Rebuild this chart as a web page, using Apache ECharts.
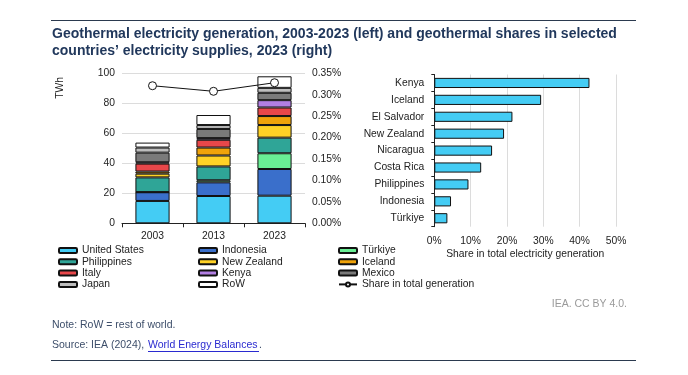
<!DOCTYPE html>
<html><head><meta charset="utf-8">
<script src="https://cdn.jsdelivr.net/npm/echarts@6/dist/echarts.min.js"></script>
<style>html,body{margin:0;padding:0;background:#fff}#c{width:688px;height:375px}</style>
</head><body><div id="c"></div>
<script>
// ---- data ----
const years = ['2003', '2013', '2023'];
const unitedStates = [14.9, 18.2, 18.4];
const indonesia = [5.8, 9.1, 17.8];
const turkiye = [0.1, 1.4, 10.5];
const philippines = [9.8, 9.2, 10.4];
const newZealand = [2.5, 7.3, 8.4];
const iceland = [1.4, 5.3, 6.0];
const italy = [5.3, 5.2, 5.7];
const kenya = [0.9, 1.1, 4.9];
const mexico = [6.4, 6.1, 4.9];
const japan = [3.4, 2.6, 3.3];
const restOfWorld = [3.3, 6.7, 7.7];
const shareTotal = [0.321, 0.308, 0.328];

const shareCountries = ['Kenya', 'Iceland', 'El Salvador', 'New Zealand', 'Nicaragua', 'Costa Rica', 'Philippines', 'Indonesia', 'Türkiye'];
const shareValues = [42.7, 29.4, 21.5, 19.2, 15.9, 12.9, 9.4, 4.6, 3.6];

const leftTicks = [0, 20, 40, 60, 80, 100];
const rightTicks = [0, 0.05, 0.10, 0.15, 0.20, 0.25, 0.30, 0.35];
const shareTicks = [0, 10, 20, 30, 40, 50];

// ---- chart ----
const FONT = '"Liberation Sans", Arial, sans-serif';
const FS = 10.3;
const stackDefs = [
  ['United States', unitedStates, '#44CCF4'],
  ['Indonesia', indonesia, '#3A6FCB'],
  ['Türkiye', turkiye, '#69EE95'],
  ['Philippines', philippines, '#2FA597'],
  ['New Zealand', newZealand, '#FFD226'],
  ['Iceland', iceland, '#F0A30A'],
  ['Italy', italy, '#E8474A'],
  ['Kenya', kenya, '#B27FE3'],
  ['Mexico', mexico, '#7A7A7A'],
  ['Japan', japan, '#BDBDBD'],
  ['RoW', restOfWorld, '#FFFFFF']
];

const series = stackDefs.map(([name, data, color]) => ({
  name, type: 'bar', stack: 'gen', data, barWidth: '56%',
  xAxisIndex: 0, yAxisIndex: 0,
  itemStyle: { color, borderColor: '#111', borderWidth: 1 },
  emphasis: { disabled: true }
}));
series.push({
  name: 'Share in total generation', type: 'line', data: shareTotal,
  xAxisIndex: 0, yAxisIndex: 1, symbol: 'circle', symbolSize: 8, z: 10,
  lineStyle: { color: '#111', width: 1 },
  itemStyle: { color: '#fff', borderColor: '#111', borderWidth: 1 }
});
series.push({
  name: 'shareBars', type: 'bar', data: shareValues, barWidth: '60%',
  xAxisIndex: 1, yAxisIndex: 2,
  itemStyle: { color: '#44CCF4', borderColor: '#111', borderWidth: 1 }
});

const legendText = { fontFamily: FONT, fontSize: FS, color: '#222', lineHeight: 11 };
function col(left, names) {
  return {
    orient: 'vertical', left, top: 245, itemWidth: 18, itemHeight: 5, itemGap: 0.3,
    textStyle: legendText, selectedMode: false, padding: 0,
    data: names.map(n => n === 'Share in total generation' ? { name: n } : { name: n, icon: 'roundRect' })
  };
}
const legendColumns = [
  col(58, ['United States', 'Philippines', 'Italy', 'Japan']),
  col(198, ['Indonesia', 'New Zealand', 'Kenya', 'RoW']),
  col(338, ['Türkiye', 'Iceland', 'Mexico', 'Share in total generation'])
];

const axisLabelStyle = { fontFamily: FONT, fontSize: FS, color: '#222' };

const option = {
  animation: false,
  textStyle: { fontFamily: FONT },
  grid: [
    { left: 122, top: 73.3, width: 183, height: 150 },
    { left: 434.3, top: 74.5, width: 181.7, height: 152.2 }
  ],
  legend: legendColumns,
  xAxis: [
    { type: 'category', gridIndex: 0, data: years,
      axisLine: { lineStyle: { color: '#222' } },
      axisTick: { show: true, length: 4, lineStyle: { color: '#222' } },
      axisLabel: Object.assign({ margin: 8 }, axisLabelStyle) },
    { type: 'value', gridIndex: 1, min: shareTicks[0], max: shareTicks[shareTicks.length - 1], interval: 10,
      axisLine: { show: false }, axisTick: { show: false },
      splitLine: { lineStyle: { color: '#dcdcdc' } },
      axisLabel: Object.assign({ margin: 9, formatter: v => v + '%' }, axisLabelStyle),
      name: 'Share in total electricity generation', nameLocation: 'middle', nameGap: 22,
      nameTextStyle: axisLabelStyle }
  ],
  yAxis: [
    { type: 'value', gridIndex: 0, min: leftTicks[0], max: leftTicks[leftTicks.length - 1], interval: 20,
      axisLine: { show: false }, axisTick: { show: false },
      splitLine: { lineStyle: { color: '#dcdcdc' } },
      axisLabel: Object.assign({ margin: 7 }, axisLabelStyle) },
    { type: 'value', gridIndex: 0, position: 'right', min: rightTicks[0], max: rightTicks[rightTicks.length - 1], interval: 0.05,
      axisLine: { show: false }, axisTick: { show: false }, splitLine: { show: false },
      axisLabel: Object.assign({ margin: 7, formatter: v => v.toFixed(2) + '%' }, axisLabelStyle) },
    { type: 'category', gridIndex: 1, data: shareCountries, inverse: true,
      axisLine: { lineStyle: { color: '#222' } },
      axisTick: { show: true, length: 3, lineStyle: { color: '#222' } },
      axisLabel: Object.assign({ margin: 10 }, axisLabelStyle) }
  ],
  series,
  graphic: [
    { type: 'line', shape: { x1: 51, y1: 20.5, x2: 636, y2: 20.5 }, style: { stroke: '#2b3a4f', lineWidth: 1.2 } },
    { type: 'text', left: 52, top: 26, style: { text: 'Geothermal electricity generation, 2003-2023 (left) and geothermal shares in selected\ncountries\u2019 electricity supplies, 2023 (right)', font: 'bold 14px ' + FONT, fill: '#21385c', lineHeight: 17 } },
    { type: 'text', x: 60, y: 88, rotation: Math.PI / 2, style: { text: 'TWh', font: FS + 'px ' + FONT, fill: '#222', align: 'center', verticalAlign: 'middle' } },
    { type: 'text', right: 61, top: 299, style: { text: 'IEA. CC BY 4.0.', font: '10.5px ' + FONT, fill: '#9a9a9a' } },
    { type: 'text', left: 52, top: 320, style: { text: 'Note: RoW = rest of world.', font: '10.5px ' + FONT, fill: '#3d4e6a' } },
    { type: 'text', left: 52, top: 340, style: { text: 'Source: IEA (2024),', font: '10.5px ' + FONT, fill: '#3d4e6a' } },
    { type: 'text', left: 148, top: 340, style: { text: 'World Energy Balances', font: '10.5px ' + FONT, fill: '#2a2ad0' } },
    { type: 'text', left: 259, top: 340, style: { text: '.', font: '10.5px ' + FONT, fill: '#3d4e6a' } },
    { type: 'line', shape: { x1: 148, y1: 351.5, x2: 259, y2: 351.5 }, style: { stroke: '#2a2ad0', lineWidth: 1 } },
    { type: 'line', shape: { x1: 51, y1: 360.5, x2: 636, y2: 360.5 }, style: { stroke: '#2b3a4f', lineWidth: 1.2 } }
  ]
};
const chart = echarts.init(document.getElementById('c'), null, { renderer: 'canvas' });
chart.setOption(option);
</script>
</body></html>
